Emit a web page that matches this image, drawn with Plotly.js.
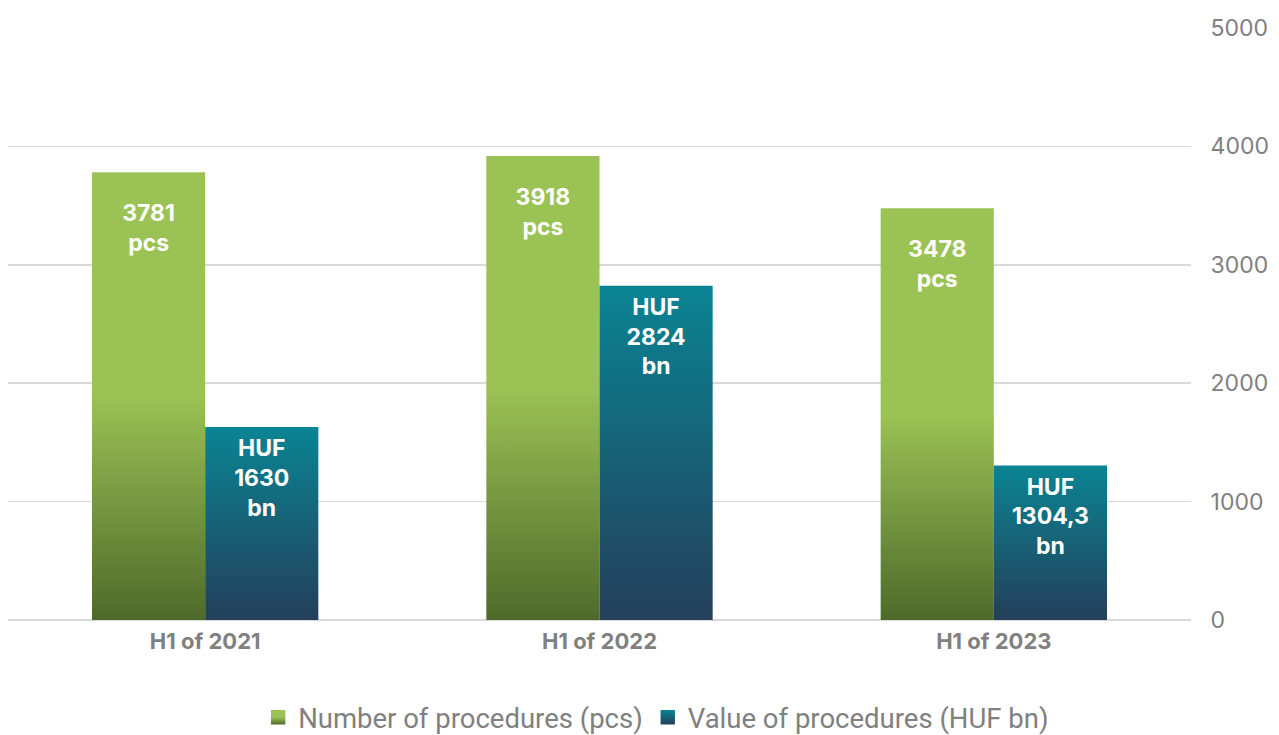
<!DOCTYPE html>
<html>
<head>
<meta charset="utf-8">
<script src="https://cdn.plot.ly/plotly-3.0.1.min.js"></script>
<style>
  html, body { margin: 0; padding: 0; background: #ffffff; }
  #chart { width: 1279px; height: 735px; }
</style>
</head>
<body>
<div id="chart"></div>
<script>
// ---- data ----
const categories = ['H1 of 2021', 'H1 of 2022', 'H1 of 2023'];
const procedureCounts = [3781, 3918, 3478];
const procedureValues = [1630, 2824, 1304.3];
const countLabels = ['3781', '3918', '3478'];
const valueLabels = ['1630', '2824', '1304,3'];
const seriesNames = ['Number of procedures (pcs)', 'Value of procedures (HUF bn)'];
const yTicks = [0, 1000, 2000, 3000, 4000, 5000];

const FONT = 'Inter, "Open Sans", sans-serif';
const LEGEND_FONT = 'Roboto, Inter, sans-serif';
const GRAY = '#808080';

const countText = countLabels.map(s => s + '<br>pcs');
const valueText = valueLabels.map(s => 'HUF<br>' + s + '<br>bn');

const traces = [
  {
    type: 'bar', name: seriesNames[0], x: categories, y: procedureCounts,
    text: countText, textposition: 'inside', insidetextanchor: 'end',
    textfont: {family: FONT, size: 23, color: '#ffffff', weight: 'bold'},
    marker: {color: '#9AC254'}, hoverinfo: 'none', cliponaxis: false
  },
  {
    type: 'bar', name: seriesNames[1], x: categories, y: procedureValues,
    text: valueText, textposition: 'inside', insidetextanchor: 'end',
    textfont: {family: FONT, size: 23, color: '#ffffff', weight: 'bold'},
    marker: {color: '#0A8393'}, hoverinfo: 'none', cliponaxis: false
  }
];

const layout = {
  width: 1279, height: 735,
  margin: {l: 8, r: 88, t: 28, b: 115, autoexpand: false},
  paper_bgcolor: '#ffffff', plot_bgcolor: '#ffffff',
  barmode: 'group', bargap: 0.426, bargroupgap: 0,
  showlegend: true,
  legend: {
    orientation: 'h', xref: 'container', yref: 'container',
    x: 0.513, xanchor: 'center', y: 0.024, yanchor: 'middle',
    font: {family: LEGEND_FONT, size: 27.5, color: GRAY}, traceorder: 'normal'
  },
  xaxis: {
    type: 'category', showgrid: false, zeroline: false, showline: false,
    automargin: false,
    ticks: 'outside', ticklen: 2, tickcolor: 'rgba(0,0,0,0)',
    tickfont: {family: FONT, size: 22, color: GRAY, weight: 'bold'}
  },
  yaxis: {
    side: 'right', range: [0, 5000], tickvals: yTicks,
    ticktext: yTicks.map(String), automargin: false,
    showgrid: true, gridcolor: '#d9d9d9', gridwidth: 1.5,
    zeroline: true, zerolinecolor: '#d9d9d9', zerolinewidth: 1.5,
    showline: false, ticks: 'outside', ticklen: 14, tickcolor: 'rgba(0,0,0,0)',
    tickfont: {family: FONT, size: 23, color: GRAY}
  }
};

function applyGradients(gd) {
  const svg = gd.querySelector('svg.main-svg');
  const ns = 'http://www.w3.org/2000/svg';
  let defs = svg.querySelector('defs');
  if (!defs) { defs = document.createElementNS(ns, 'defs'); svg.insertBefore(defs, svg.firstChild); }
  const grads = [
    {id: 'gradGreen', stops: [[0, '#9AC254'], [0.5, '#9AC254'], [1, '#4E6A2A']], shift: 24},
    {id: 'gradTeal', stops: [[0, '#0A8494'], [1, '#243F5A']], shift: 4}
  ];
  grads.forEach(g => {
    const lg = document.createElementNS(ns, 'linearGradient');
    lg.setAttribute('id', g.id);
    lg.setAttribute('x1', '0'); lg.setAttribute('y1', '0');
    lg.setAttribute('x2', '0'); lg.setAttribute('y2', '1');
    g.stops.forEach(s => {
      const st = document.createElementNS(ns, 'stop');
      st.setAttribute('offset', s[0]);
      st.setAttribute('stop-color', s[1]);
      lg.appendChild(st);
    });
    defs.appendChild(lg);
  });
  const barTraces = gd.querySelectorAll('.barlayer .trace.bars');
  barTraces.forEach((t, i) => {
    t.querySelectorAll('.point path').forEach(p => { p.style.fill = 'url(#' + grads[i].id + ')'; });
    t.querySelectorAll('.point text').forEach(tx => {
      const tr = tx.getAttribute('transform') || '';
      tx.setAttribute('transform', 'translate(0,' + grads[i].shift + ') ' + tr);
    });
  });
  const legendTraces = gd.querySelectorAll('.legend .traces');
  legendTraces.forEach((t, i) => {
    t.querySelectorAll('.legendpoints path').forEach(p => {
      p.style.fill = 'url(#' + grads[i].id + ')';
      const tr = p.getAttribute('transform') || '';
      p.setAttribute('transform', tr + ' scale(1.2)');
    });
  });
}

Plotly.newPlot('chart', traces, layout, {displayModeBar: false, staticPlot: true})
  .then(gd => applyGradients(gd));
</script>
</body>
</html>
